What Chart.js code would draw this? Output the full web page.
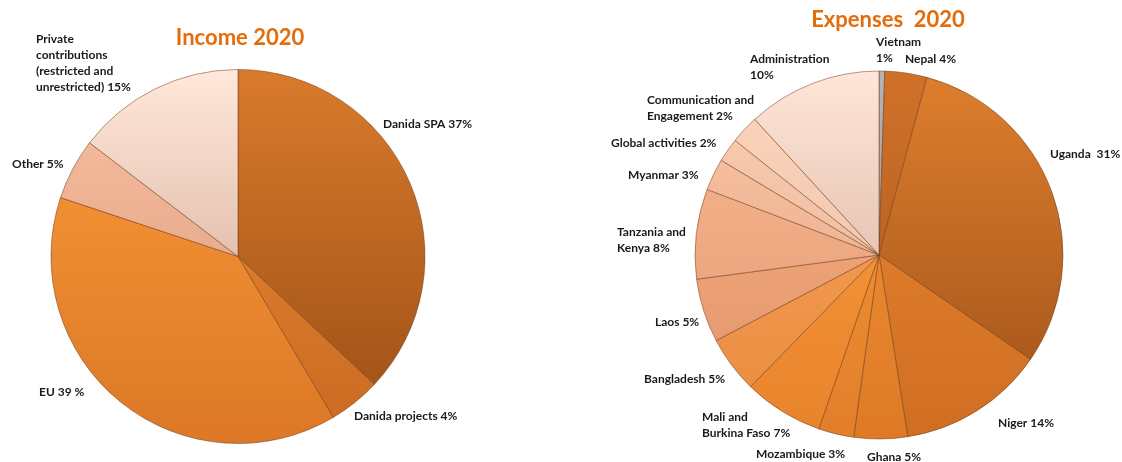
<!DOCTYPE html>
<html>
<head>
<meta charset="utf-8">
<script src="https://cdn.jsdelivr.net/npm/chart.js@4.4.1/dist/chart.umd.min.js"></script>
<style>
html,body{margin:0;padding:0;background:#fff;overflow:hidden}
#wrap{position:relative;width:1122px;height:462px}
canvas{position:absolute;left:0;top:0}
</style>
</head>
<body>
<div id="wrap">
<canvas id="income" width="1122" height="462"></canvas>
<canvas id="expenses" width="1122" height="462"></canvas>
</div>
<script>
// ---------- DATA ----------
const incomeCategories = ["Danida SPA", "Danida projects", "EU", "Other", "Private contributions (restricted and unrestricted)"];
const incomeValues = [37.0, 4.5, 38.6, 5.3, 14.6];
const incomeLabelText = [
  ["Danida SPA 37%"],
  ["Danida projects 4%"],
  ["EU 39 %"],
  ["Other 5%"],
  ["Private", "contributions", "(restricted and", "unrestricted) 15%"]
];

const expenseCategories = ["Vietnam", "Nepal", "Uganda", "Niger", "Ghana", "Mozambique",
  "Mali and Burkina Faso", "Bangladesh", "Laos", "Tanzania and Kenya", "Myanmar",
  "Global activities", "Communication and Engagement", "Administration"];
const expenseValues = [0.5, 3.7, 30.4, 12.9, 4.7, 3.1, 7.0, 5.0, 5.6, 7.9, 2.8, 2.1, 2.5, 11.8];
const expenseLabelText = [
  ["Vietnam", "1%"],
  ["Nepal 4%"],
  ["Uganda  31%"],
  ["Niger 14%"],
  ["Ghana 5%"],
  ["Mozambique 3%"],
  ["Mali and", "Burkina Faso 7%"],
  ["Bangladesh 5%"],
  ["Laos 5%"],
  ["Tanzania and", "Kenya 8%"],
  ["Myanmar 3%"],
  ["Global activities 2%"],
  ["Communication and", "Engagement 2%"],
  ["Administration", "10%"]
];

// ---------- STYLES ----------
const incomeColors = [
  ["#d97b2c", "#9a4d15"],
  ["#ee8a34", "#c96a22"],
  ["#fb9b3a", "#dc7826"],
  ["#f9c2a2", "#d8957a"],
  ["#ffe8da", "#c99a86"]
];
const expenseColors = [
  ["#b4b4b4", "#909090"],
  ["#d0712a", "#a8561a"],
  ["#de7f2e", "#9e5018"],
  ["#ec8a34", "#cf6d22"],
  ["#f49537", "#de7a26"],
  ["#f89a3a", "#e27e2a"],
  ["#fc9f3e", "#e8832c"],
  ["#fba65a", "#e88a40"],
  ["#fab282", "#e0926a"],
  ["#fbb88c", "#e09a78"],
  ["#fcc4a0", "#e0a88e"],
  ["#fdcdaf", "#e2b29c"],
  ["#fed6bc", "#e4baa6"],
  ["#ffe6d8", "#cfa492"]
];
// label placement relative to pie centre: [dx to text left, dy to first line middle]
const incomeLabelOffsets = [[145,-132],[116,160],[-199,136],[-226,-92],[-202,-217]];
const expenseLabelOffsets = [[-3,-213],[26,-196],[171,-101],[119,168],[-12,202],[-123,199],
  [-177,162],[-235,124],[-224,67],[-262,-23],[-251,-80],[-268,-112],[-232,-155],[-129,-196]];

function gradFill(pairs, radius) {
  return (ctx) => {
    const i = ctx.dataIndex;
    if (ctx.type !== 'data' || i === undefined) return pairs[0][0];
    const a = ctx.chart.chartArea;
    if (!a) return pairs[i][0];
    const cy = (a.top + a.bottom) / 2;
    const g = ctx.chart.ctx.createLinearGradient(0, cy - radius, 0, cy + radius);
    g.addColorStop(0, pairs[i][0]);
    g.addColorStop(1, pairs[i][1]);
    return g;
  };
}

const pieText = {
  id: 'pieText',
  afterDatasetsDraw(chart, args, opts) {
    const arc = chart.getDatasetMeta(0).data[0];
    if (!arc) return;
    const cx = arc.x, cy = arc.y;
    const c = chart.ctx;
    c.save();
    c.textBaseline = 'middle';
    c.textAlign = 'center';
    c.fillStyle = opts.titleColor;
    c.font = opts.titleFont;
    c.fillText(opts.title, cx + opts.titleOffset[0], cy + opts.titleOffset[1]);
    c.textAlign = 'left';
    c.fillStyle = opts.labelColor;
    c.font = opts.labelFont;
    opts.labels.forEach((lines, i) => {
      const [dx, dy] = opts.offsets[i];
      lines.forEach((ln, k) => c.fillText(ln, cx + dx, cy + dy + k * opts.lineHeight));
    });
    c.restore();
  }
};

function makePie(id, cats, vals, colors, radius, padding, text) {
  return new Chart(document.getElementById(id), {
    type: 'pie',
    data: {
      labels: cats,
      datasets: [{
        data: vals,
        backgroundColor: gradFill(colors, radius),
        borderColor: 'rgba(110,55,20,0.5)',
        borderWidth: 1,
        radius: radius
      }]
    },
    options: {
      responsive: false,
      animation: false,
      events: [],
      layout: { padding: padding },
      plugins: {
        legend: { display: false },
        tooltip: { enabled: false },
        title: { display: false },
        pieText: text
      }
    },
    plugins: [pieText]
  });
}

makePie('income', incomeCategories, incomeValues, incomeColors, 187,
  { left: 40, right: 686, top: 60, bottom: 9 },
  { title: 'Income 2020', titleOffset: [2, -219], titleColor: '#e46c0a', titleFont: 'bold 22px Lato',
    labels: incomeLabelText, offsets: incomeLabelOffsets, labelColor: '#1a1a1a',
    labelFont: 'bold 12px Lato', lineHeight: 16 });

makePie('expenses', expenseCategories, expenseValues, expenseColors, 184,
  { left: 680, right: 44, top: 58, bottom: 10 },
  { title: 'Expenses  2020', titleOffset: [9, -235], titleColor: '#e46c0a', titleFont: 'bold 22px Lato',
    labels: expenseLabelText, offsets: expenseLabelOffsets, labelColor: '#1a1a1a',
    labelFont: 'bold 12px Lato', lineHeight: 16 });
</script>
</body>
</html>
